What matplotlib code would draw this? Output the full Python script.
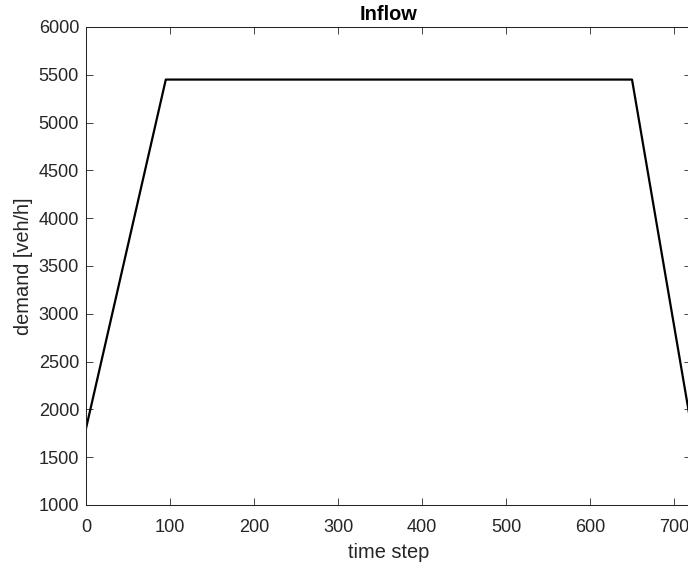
import matplotlib
matplotlib.use('Agg')
import matplotlib.pyplot as plt

# Inflow demand profile (time step, veh/h)
time_step = [0, 95, 650, 720]
demand = [1800, 5450, 5450, 1850]

x_ticks = [0, 100, 200, 300, 400, 500, 600, 700]
y_ticks = [1000, 1500, 2000, 2500, 3000, 3500, 4000, 4500, 5000, 5500, 6000]

plt.rcParams['font.family'] = ['Liberation Sans', 'DejaVu Sans']
axis_col = '#262626'

fig = plt.figure(figsize=(6.88, 5.67), dpi=100)
ax = fig.add_axes([0.125, 0.1094, 0.8791, 0.8430])

ax.plot(time_step, demand, color='black', linewidth=1.6)

ax.set_xlim(0, 720)
ax.set_ylim(1000, 6000)
ax.set_xticks(x_ticks)
ax.set_yticks(y_ticks)

ax.tick_params(direction='in', top=True, right=True, length=5, width=0.6,
               colors=axis_col, labelsize=13.1)
ax.tick_params(axis='x', pad=10)
ax.tick_params(axis='y', pad=5)
for s in ax.spines.values():
    s.set_color(axis_col)
    s.set_linewidth(0.75)

ax.set_xlabel('time step', fontsize=14.4, color=axis_col, labelpad=5)
ax.set_ylabel('demand [veh/h]', fontsize=14.4, color=axis_col, labelpad=4)
ax.set_title('Inflow', fontsize=14.4, fontweight='bold', color='black', pad=5)

fig.savefig('out.png', dpi=100)
